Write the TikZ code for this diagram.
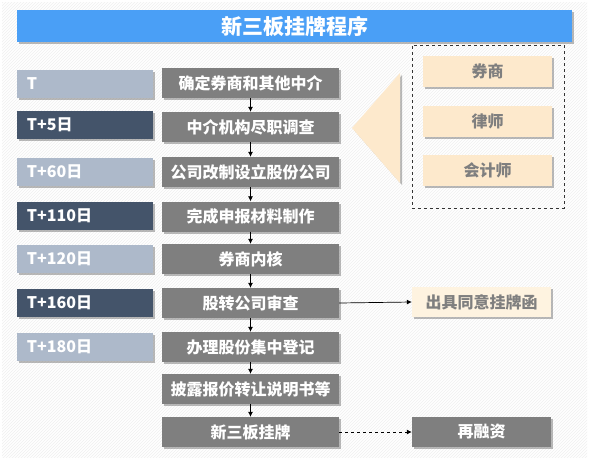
\documentclass[tikz,border=0pt]{standalone}
\usepackage{fontspec}
\setmainfont{Noto Sans CJK SC}
\usetikzlibrary{shadows,arrows.meta,patterns}
\definecolor{titleblue}{HTML}{4A9FF6}
\definecolor{boxgrey}{HTML}{7F7F7F}
\definecolor{tlight}{HTML}{ADB9CA}
\definecolor{tdark}{HTML}{44546A}
\definecolor{orangebox}{HTML}{FDE9CC}
\definecolor{creambox}{HTML}{FEF3E0}
\begin{document}
\begin{tikzpicture}[x=1pt,y=-1pt,
  shad/.style={drop shadow={shadow xshift=2pt,shadow yshift=-2pt,opacity=.45,fill=black!60}},
  gbox/.style={rectangle,fill=boxgrey,minimum width=177pt,minimum height=30pt,inner sep=0pt,
    text=white,font=\bfseries\fontsize{16pt}{19pt}\selectfont,shad},
  tbox/.style={rectangle,minimum height=28pt,inner xsep=10pt,inner ysep=0pt,text width=116pt,align=left,
    text=white,font=\bfseries\fontsize{16pt}{19pt}\selectfont,shad},
  obox/.style={rectangle,fill=orangebox,minimum width=129pt,minimum height=31pt,inner sep=0pt,
    text=boxgrey,font=\bfseries\fontsize{16pt}{19pt}\selectfont,shad},
  arr/.style={-{Latex[length=5pt,width=5pt]},black,line width=0.7pt}]
\useasboundingbox (0,0) rectangle (589,461);
\fill[white] (0,0) rectangle (589,461);
\fill[pattern=north east lines,pattern color=black!6] (2,2) rectangle (587,457);
% title
\node[rectangle,fill=titleblue,minimum width=555pt,minimum height=32pt,inner sep=0pt,text=white,
  font=\bfseries\fontsize{21pt}{25pt}\selectfont,shad] (title) at (294.5,26) {新三板挂牌程序};
% main column
\node[gbox] (s1) at (250.5,83) {确定券商和其他中介};
\node[gbox] (s2) at (250.5,127) {中介机构尽职调查};
\node[gbox] (s3) at (250.5,172) {公司改制设立股份公司};
\node[gbox] (s4) at (250.5,216.5) {完成申报材料制作};
\node[gbox] (s5) at (250.5,259) {券商内核};
\node[gbox] (s6) at (250.5,303) {股转公司审查};
\node[gbox] (s7) at (250.5,347) {办理股份集中登记};
\node[gbox] (s8) at (250.5,389) {披露报价转让说明书等};
\node[gbox] (s9) at (250.5,432) {新三板挂牌};
% time column
\node[tbox,fill=tlight] (t1) at (85,84) {T};
\node[tbox,fill=tdark] (t2) at (85,124.5) {T+5日};
\node[tbox,fill=tlight] (t3) at (85,171.5) {T+60日};
\node[tbox,fill=tdark] (t4) at (85,216) {T+110日};
\node[tbox,fill=tlight] (t5) at (85,258.5) {T+120日};
\node[tbox,fill=tdark] (t6) at (85,302.5) {T+160日};
\node[tbox,fill=tlight] (t7) at (85,346.5) {T+180日};
% arrows
\draw[arr] (s1) -- (s2);
\draw[arr] (s2) -- (s3);
\draw[arr] (s3) -- (s4);
\draw[arr] (s4) -- (s5);
\draw[arr] (s5) -- (s6);
\draw[arr] (s6) -- (s7);
\draw[arr] (s7) -- (s8);
\draw[arr] (s8) -- (s9);
% intermediaries
\fill[orangebox,shad] (352,128) -- (400,73) -- (400,183) -- cycle;
\node[draw=black!80,dashed,line width=0.8pt,rectangle,minimum width=152pt,minimum height=163pt,inner sep=0pt] (grp) at (488,126.5) {};
\node[obox] (o1) at (487.5,71.5) {券商};
\node[obox] (o2) at (487.5,121.5) {律师};
\node[obox] (o3) at (487.5,170.5) {会计师};
% side results
\node[obox,fill=creambox,minimum width=139pt,minimum height=30pt] (r1) at (481.5,302) {出具同意挂牌函};
\node[gbox,minimum width=139pt] (r2) at (481.5,432) {再融资};
\draw[arr] (s6.east) -- (r1.west);
\draw[arr,dashed] (s9.east) -- (r2.west);
\end{tikzpicture}
\end{document}
